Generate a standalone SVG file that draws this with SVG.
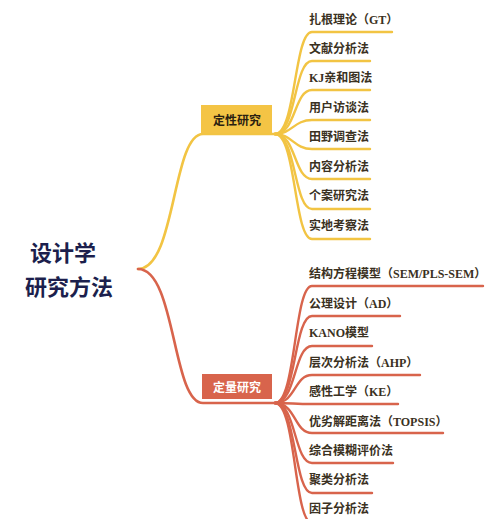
<svg xmlns="http://www.w3.org/2000/svg" width="500" height="519" viewBox="0 0 500 519">
<style>
.y{fill:none;stroke:#F2C443;stroke-width:2.4;stroke-linecap:round}
.r{fill:none;stroke:#D8644C;stroke-width:2.4;stroke-linecap:round}
.main{stroke-width:2.6}
.t{font-family:"Liberation Serif","Noto Sans CJK SC",serif;font-weight:bold;font-size:12px;fill:#3a3122;dominant-baseline:central}
.root{font-family:"Noto Sans CJK SC",sans-serif;font-weight:bold;font-size:22px;fill:#1c1f4d;text-anchor:middle}
.lbl{font-family:"Noto Sans CJK SC",sans-serif;font-weight:bold;font-size:12px;text-anchor:middle;dominant-baseline:central}
</style>
<rect width="500" height="519" fill="#ffffff"/>
<g id="connectors">
<path class="y main" d="M138,269 C176,269 172,134 203,134 L275,134"/>
<path class="r main" d="M138,269 C176,269 172,403 203,403 L275,403"/>
<path class="y" d="M275,134 C296,134 294,32 312,32 L392,32"/>
<path class="y" d="M275,134 C296,134 294,61 312,61 L370,61"/>
<path class="y" d="M275,134 C296,134 294,90 312,90 L370,90"/>
<path class="y" d="M275,134 C292,134 294,120 312,120 L370,120"/>
<path class="y" d="M275,134 C292,134 294,149 312,149 L370,149"/>
<path class="y" d="M275,134 C296,134 294,179 312,179 L370,179"/>
<path class="y" d="M275,134 C296,134 294,209 312,209 L370,209"/>
<path class="y" d="M275,134 C296,134 294,239 312,239 L370,239"/>
<path class="r" d="M275,403 C296,403 294,286 312,286 L483,286"/>
<path class="r" d="M275,403 C296,403 294,316 312,316 L400,316"/>
<path class="r" d="M275,403 C296,403 294,346 312,346 L372,346"/>
<path class="r" d="M275,403 C296,403 294,375 312,375 L420,375"/>
<path class="r" d="M275,403 C292,403 294,404 312,404 L398,404"/>
<path class="r" d="M275,403 C296,403 294,433 312,433 L443,433"/>
<path class="r" d="M275,403 C296,403 294,463 312,463 L393,463"/>
<path class="r" d="M275,403 C296,403 294,493 312,493 L372,493"/>
<path class="r" d="M275,403 C296,403 294,523 312,523 L372,523"/>
</g>
<g id="root">
<text class="root" x="63" y="261">设计学</text>
<text class="root" x="69" y="295">研究方法</text>
</g>
<g id="qual">
<rect x="201" y="105" width="71" height="28" fill="#F4C445"/>
<text class="lbl" x="237" y="119" fill="#2a2010">定性研究</text>
</g>
<g id="quant">
<rect x="202" y="374" width="70" height="25" fill="#D8644C"/>
<text class="lbl" x="237" y="386.5" fill="#ffffff">定量研究</text>
</g>
<g id="qual-items">
<g id="q1"><text class="t" x="309" y="20">扎根理论（GT）</text></g>
<g id="q2"><text class="t" x="309" y="49">文献分析法</text></g>
<g id="q3"><text class="t" x="309" y="78">KJ亲和图法</text></g>
<g id="q4"><text class="t" x="309" y="108">用户访谈法</text></g>
<g id="q5"><text class="t" x="309" y="137">田野调查法</text></g>
<g id="q6"><text class="t" x="309" y="167">内容分析法</text></g>
<g id="q7"><text class="t" x="309" y="196">个案研究法</text></g>
<g id="q8"><text class="t" x="309" y="226">实地考察法</text></g>
</g>
<g id="quant-items">
<g id="n1"><text class="t" x="309" y="274">结构方程模型（SEM/PLS-SEM）</text></g>
<g id="n2"><text class="t" x="309" y="304">公理设计（AD）</text></g>
<g id="n3"><text class="t" x="309" y="333">KANO模型</text></g>
<g id="n4"><text class="t" x="309" y="363">层次分析法（AHP）</text></g>
<g id="n5"><text class="t" x="309" y="392">感性工学（KE）</text></g>
<g id="n6"><text class="t" x="309" y="422">优劣解距离法（TOPSIS）</text></g>
<g id="n7"><text class="t" x="309" y="451">综合模糊评价法</text></g>
<g id="n8"><text class="t" x="309" y="480">聚类分析法</text></g>
<g id="n9"><text class="t" x="309" y="509">因子分析法</text></g>
</g>
</svg>
